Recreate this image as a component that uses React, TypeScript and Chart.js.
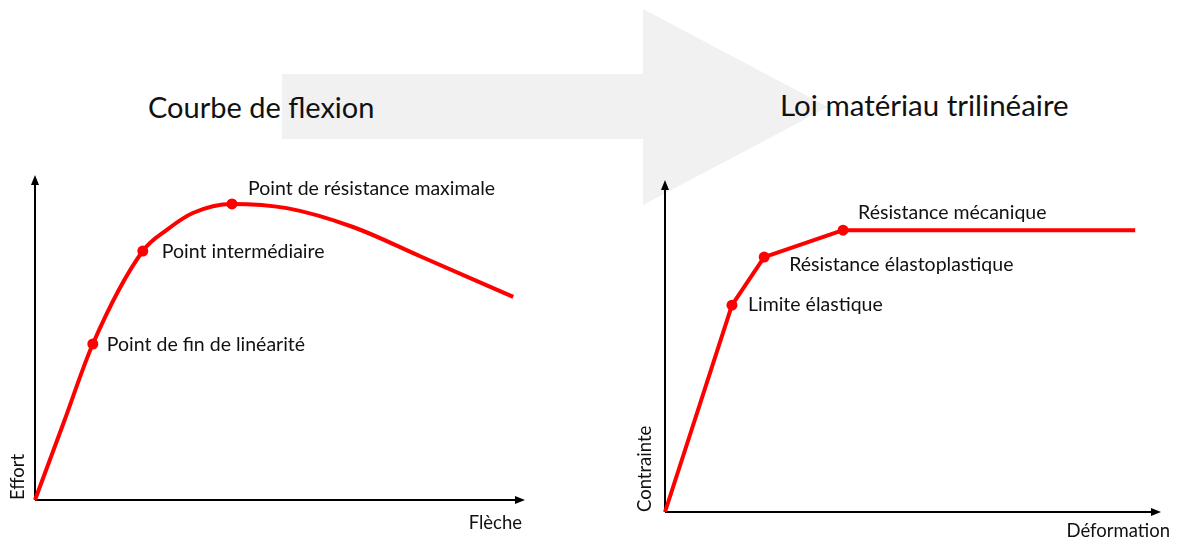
import React, { useEffect, useRef } from "react";
import { Chart, registerables } from "chart.js";
Chart.register(...registerables);

// ---- Data ----
// Courbe de flexion (Flèche vs Effort), arbitrary units 0..10
const flexCurveX = [0, 0.59, 1.18, 2.2, 2.69, 3.22, 4.02, 5.14, 6.49, 7.86, 9.76];
const flexCurveY = [0, 2.4, 4.8, 7.66, 8.31, 8.83, 9.11, 8.98, 8.4, 7.5, 6.25];
const flexKeyX = [1.18, 2.2, 4.02];
const flexKeyY = [4.8, 7.66, 9.11];
const flexKeyLabels = ["Point de fin de linéarité", "Point intermédiaire", "Point de résistance maximale"];

// Loi matériau trilinéaire (Déformation vs Contrainte)
const triX = [0, 1.35, 2.0, 3.59, 9.48];
const triY = [0, 6.23, 7.68, 8.49, 8.49];
const triKeyX = [1.35, 2.0, 3.59];
const triKeyY = [6.23, 7.68, 8.49];
const triKeyLabels = ["Limite élastique", "Résistance élastoplastique", "Résistance mécanique"];

const titles = ["Courbe de flexion", "Loi matériau trilinéaire"];
const axisTitlesX = ["Flèche", "Déformation"];
const axisTitlesY = ["Effort", "Contrainte"];

const FONT = "Lato, 'Open Sans', sans-serif";
const RED = "#ff0000";

const annotPlugin = {
  id: "annot",
  beforeDatasetsDraw(chart: any, _args: any, opts: any) {
    const { ctx, chartArea: a } = chart;
    ctx.save();
    ctx.strokeStyle = "#000";
    ctx.fillStyle = "#000";
    ctx.lineWidth = 2;
    // x axis
    ctx.beginPath();
    ctx.moveTo(a.left, a.bottom);
    ctx.lineTo(a.right - 6, a.bottom);
    ctx.stroke();
    ctx.beginPath();
    ctx.moveTo(a.right, a.bottom);
    ctx.lineTo(a.right - 10, a.bottom - 4);
    ctx.lineTo(a.right - 10, a.bottom + 4);
    ctx.closePath();
    ctx.fill();
    // y axis
    ctx.beginPath();
    ctx.moveTo(a.left, a.bottom);
    ctx.lineTo(a.left, a.top + 6);
    ctx.stroke();
    ctx.beginPath();
    ctx.moveTo(a.left, a.top);
    ctx.lineTo(a.left - 4, a.top + 10);
    ctx.lineTo(a.left + 4, a.top + 10);
    ctx.closePath();
    ctx.fill();
    // axis titles
    ctx.font = `${opts.axisFontSize}px ${FONT}`;
    ctx.fillStyle = "#111";
    ctx.textBaseline = "middle";
    ctx.textAlign = "right";
    ctx.fillText(opts.xTitle, opts.xTitlePos[0], opts.xTitlePos[1]);
    ctx.save();
    ctx.translate(opts.yTitlePos[0], a.bottom);
    ctx.rotate(-Math.PI / 2);
    ctx.textAlign = "left";
    ctx.fillText(opts.yTitle, 0, 0);
    ctx.restore();
    ctx.restore();
  },
  afterDatasetsDraw(chart: any, _args: any, opts: any) {
    const { ctx } = chart;
    const meta = chart.getDatasetMeta(1);
    ctx.save();
    ctx.font = `${opts.fontSize}px ${FONT}`;
    ctx.fillStyle = "#111";
    ctx.textBaseline = "middle";
    ctx.textAlign = "left";
    opts.labels.forEach((t: string, i: number) => {
      const p = meta.data[i];
      if (!p) return;
      const o = opts.offsets[i];
      ctx.fillText(t, p.x + o[0], p.y + o[1]);
    });
    ctx.restore();
  },
};

function makeChart(
  canvas: HTMLCanvasElement,
  cx: number[],
  cy: number[],
  kx: number[],
  ky: number[],
  smooth: boolean,
  padding: any,
  annot: any
) {
  return new Chart(canvas, {
    type: "scatter",
    data: {
      datasets: [
        {
          data: cx.map((x, i) => ({ x, y: cy[i] })),
          showLine: true,
          borderColor: RED,
          borderWidth: 4,
          pointRadius: 0,
          tension: smooth ? 0.4 : 0,
          cubicInterpolationMode: smooth ? "monotone" : "default",
          borderCapStyle: "butt",
          borderJoinStyle: "round",
          clip: false,
        } as any,
        {
          data: kx.map((x, i) => ({ x, y: ky[i] })),
          showLine: false,
          pointRadius: 5.5,
          pointBackgroundColor: RED,
          pointBorderWidth: 0,
          clip: false,
        } as any,
      ],
    },
    options: {
      animation: false,
      responsive: false,
      devicePixelRatio: 1,
      events: [],
      layout: { padding },
      scales: {
        x: { type: "linear", min: 0, max: 10, display: false },
        y: { type: "linear", min: 0, max: 10, display: false },
      },
      plugins: {
        legend: { display: false },
        tooltip: { enabled: false },
        annot,
      } as any,
    },
    plugins: [annotPlugin as any],
  });
}

export default function App() {
  const leftRef = useRef<HTMLCanvasElement>(null);
  const rightRef = useRef<HTMLCanvasElement>(null);

  useEffect(() => {
    document.body.style.margin = "0";
    const c1 = makeChart(
      leftRef.current!,
      flexCurveX,
      flexCurveY,
      flexKeyX,
      flexKeyY,
      true,
      { left: 35, right: 35, top: 25, bottom: 40 },
      {
        fontSize: 19.5,
        axisFontSize: 18.5,
        labels: flexKeyLabels,
        offsets: [
          [14, 1],
          [19, 1],
          [16, -15],
        ],
        xTitle: axisTitlesX[0],
        xTitlePos: [522, 373],
        yTitle: axisTitlesY[0],
        yTitlePos: [18, 0],
      }
    );
    const c2 = makeChart(
      rightRef.current!,
      triX,
      triY,
      triKeyX,
      triKeyY,
      false,
      { left: 45, right: 17, top: 30, bottom: 28 },
      {
        fontSize: 19.5,
        axisFontSize: 18.5,
        labels: triKeyLabels,
        offsets: [
          [16, 0],
          [25, 8],
          [15, -17],
        ],
        xTitle: axisTitlesX[1],
        xTitlePos: [550, 381],
        yTitle: axisTitlesY[1],
        yTitlePos: [25, 0],
      }
    );
    return () => {
      c1.destroy();
      c2.destroy();
    };
  }, []);

  return (
    <div style={{ position: "relative", width: 1178, height: 540, overflow: "hidden", background: "#fff" }}>
      <svg width={1178} height={540} style={{ position: "absolute", left: 0, top: 0 }}>
        <polygon points="282,74 643,74 643,9 828,107 643,205 643,139 282,139" fill="#f1f1f1" />
        <text x={148} y={118} fontSize={29} fontFamily={FONT} fill="#111">
          {titles[0]}
        </text>
        <text x={780} y={116} fontSize={29.5} fontFamily={FONT} fill="#111">
          {titles[1]}
        </text>
      </svg>
      <canvas
        ref={leftRef}
        width={560}
        height={390}
        style={{ position: "absolute", left: 0, top: 150, width: 560, height: 390 }}
      />
      <canvas
        ref={rightRef}
        width={558}
        height={390}
        style={{ position: "absolute", left: 620, top: 150, width: 558, height: 390 }}
      />
    </div>
  );
}
